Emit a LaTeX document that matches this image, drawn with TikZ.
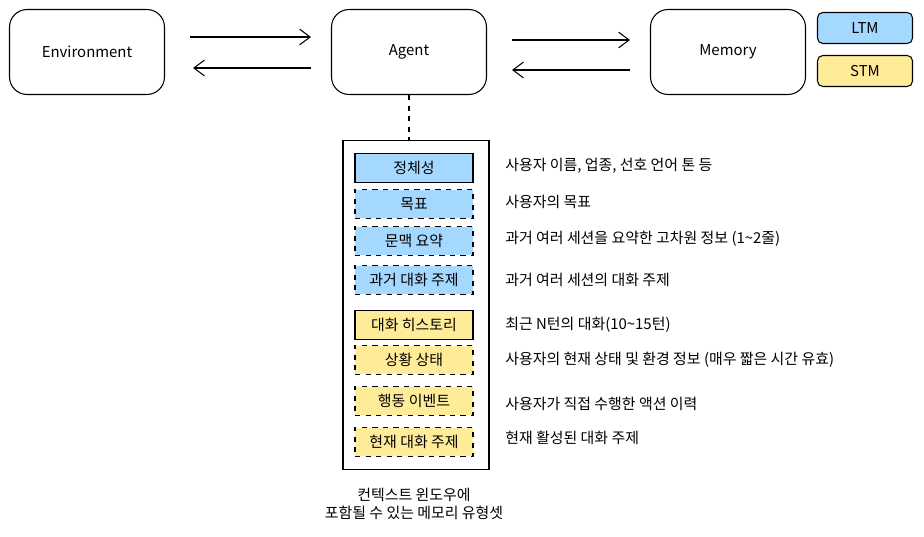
\documentclass[tikz,border=0pt]{standalone}
\usepackage{fontspec}
\setmainfont{Noto Sans CJK KR}
\usetikzlibrary{arrows.meta,positioning}
\definecolor{ltmblue}{HTML}{A5D8FF}
\definecolor{stmyellow}{HTML}{FFEC99}
\tikzset{
  box/.style={draw,rounded corners=10pt,minimum width=3.1cm,minimum height=1.7cm,line width=0.6pt},
  tag/.style={draw,rounded corners=3pt,minimum width=1.9cm,minimum height=0.62cm,line width=0.6pt},
  slot/.style={draw,minimum width=2.36cm,minimum height=0.58cm,line width=0.6pt},
  opt/.style={slot,dashed},
  note/.style={anchor=west,inner sep=0pt},
  flow/.style={-{Straight Barb[length=6pt,width=9pt]},line width=0.6pt}
}
\begin{document}
\begin{tikzpicture}[x=0.02cm,y=-0.02cm,font=\fontsize{8.5}{10}\selectfont]
        \useasboundingbox (0,0) rectangle (924,537);
        % top row
        \node[box] (env) at (87,52) {Environment};
        \node[box] (agent) at (409,52) {Agent};
        \node[box] (mem) at (728,52) {Memory};
        \node[tag,fill=ltmblue] (ltm) at (865,28) {LTM};
        \node[tag,fill=stmyellow] (stm) at (865,71) {STM};
        \draw[flow] ([shift={(25,-15)}]env.east) -- ([shift={(-20,-15)}]agent.west);
        \draw[flow] ([shift={(-20,16)}]agent.west) -- ([shift={(28,16)}]env.east);
        \draw[flow] ([shift={(25,-12)}]agent.east) -- ([shift={(-20,-12)}]mem.west);
        \draw[flow] ([shift={(-20,18)}]mem.west) -- ([shift={(25,18)}]agent.east);
        % context window
        \node[draw,line width=0.6pt,minimum width=2.92cm,minimum height=6.6cm] (win) at (416,305) {};
        \draw[dashed,line width=0.8pt] (agent.south) -- (win.north -| agent.south);
        \node[slot,fill=ltmblue] (s1) at (414,168) {정체성};
        \node[opt,fill=ltmblue] (s2) at (414,204) {목표};
        \node[opt,fill=ltmblue] (s3) at (414,241) {문맥 요약};
        \node[opt,fill=ltmblue] (s4) at (414,280) {과거 대화 주제};
        \node[slot,fill=stmyellow] (s5) at (414,325) {대화 히스토리};
        \node[opt,fill=stmyellow] (s6) at (414,360) {상황 상태};
        \node[opt,fill=stmyellow] (s7) at (414,401) {행동 이벤트};
        \node[opt,fill=stmyellow] (s8) at (414,442) {현재 대화 주제};
        \node[note] at (505,166) {사용자 이름, 업종, 선호 언어 톤 등};
        \node[note] at (505,202) {사용자의 목표};
        \node[note] at (505,239) {과거 여러 세션을 요약한 고차원 정보 (1\textasciitilde2줄)};
        \node[note] at (505,280) {과거 여러 세션의 대화 주제};
        \node[note] at (505,325) {최근 \textit{N}턴의 대화(10\textasciitilde15턴)};
        \node[note] at (505,360) {사용자의 현재 상태 및 환경 정보 (매우 짧은 시간 유효)};
        \node[note] at (505,404) {사용자가 직접 수행한 액션 이력};
        \node[note] at (505,438) {현재 활성된 대화 주제};
        \node[align=center] (cap) at (414,504) {컨텍스트 윈도우에\\포함될 수 있는 메모리 유형셋};
    \end{tikzpicture}
\end{document}
